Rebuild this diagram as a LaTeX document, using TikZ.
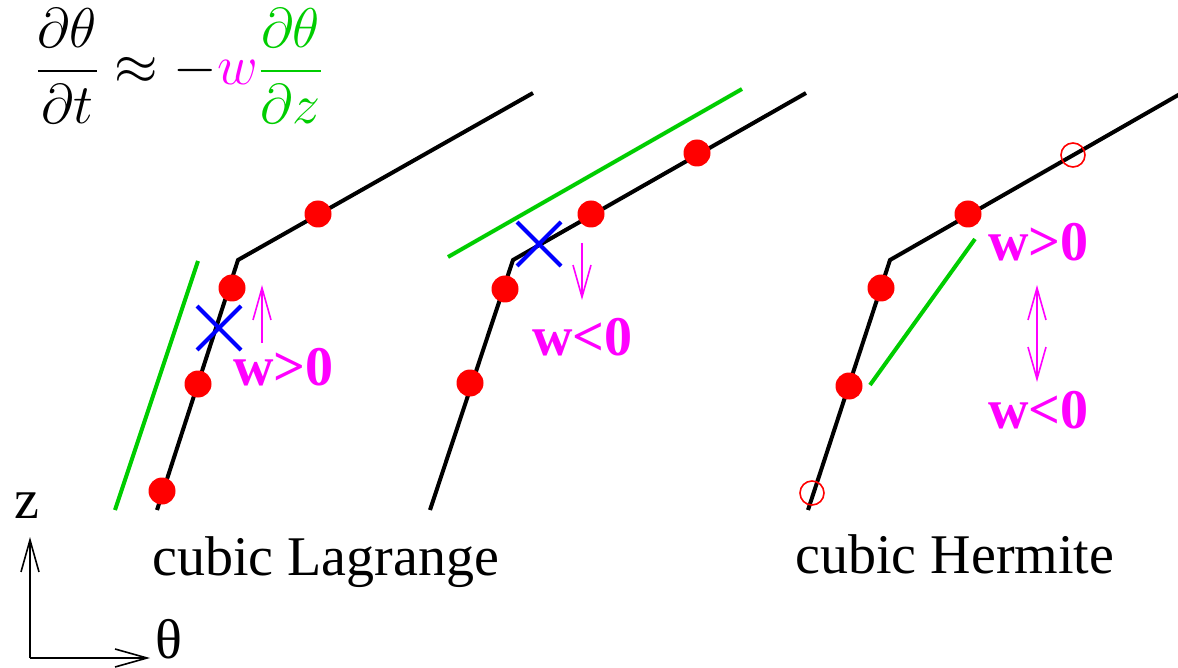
\RequirePackage{fix-cm}
\documentclass[tikz,border=0pt]{standalone}
\usepackage{amsmath}
\usepackage{fontspec}
\setmainfont{Liberation Serif}
\usepackage{xcolor}
\usepackage{tikz}
\usetikzlibrary{arrows.meta,shapes.misc}
\definecolor{lgreen}{RGB}{0,205,0}
\definecolor{wmag}{RGB}{255,0,255}
\definecolor{xblue}{RGB}{0,0,255}
\definecolor{dotred}{RGB}{255,0,0}

\begin{document}
\begin{tikzpicture}[x=0.5pt,y=-0.5pt,font=\fontsize{28}{32}\selectfont,
    curve/.style={line width=2pt},
    slope/.style={lgreen,line width=2pt},
    knot/.style={circle,fill=dotred,inner sep=0pt,minimum size=13.5pt},
    hknot/.style={circle,draw=dotred,line width=0.8pt,inner sep=0pt,minimum size=12pt},
    foot/.style={cross out,draw=xblue,line width=2pt,inner sep=0pt,minimum size=20pt},
    vel/.style={wmag,line width=0.8pt},
    tip/.tip={Straight Barb[length=16pt,width=9pt]},
    wlab/.style={wmag,font=\fontsize{28}{32}\selectfont\bfseries,anchor=base west,inner sep=0pt}]
    \useasboundingbox (0,0) rectangle (1178,668);

    % equation
    \node[anchor=base west,inner sep=0pt] (eq) at (35,85)
        {$\displaystyle\frac{\partial\theta}{\partial t}\approx-\textcolor{wmag}{w}\textcolor{lgreen}{\frac{\partial\theta}{\partial z}}$};

    % cubic Lagrange, w>0
    \coordinate (la) at (157,510);
    \coordinate (lk) at (238,260);
    \coordinate (lb) at (533,93);
    \draw[curve] (la) -- (lk) -- (lb);
    \coordinate (lg1) at (115,510);
    \coordinate (lg2) at (198,261);
    \draw[slope] (lg1) -- (lg2);
    \foreach \p [count=\i] in {(162,491),(198,384),(232,288),(318,214)}
        \node[knot] (l\i) at \p {};
    \node[foot] (lx) at (219,328) {};
    \coordinate (lv0) at (262,343);
    \coordinate (lv1) at (262,285);
    \draw[vel,-tip] (lv0) -- (lv1);
    \node[wlab] (lw) at (233,386) {w>0};

    % cubic Lagrange, w<0
    \coordinate (ma) at (430,510);
    \coordinate (mk) at (513,260);
    \coordinate (mb) at (806,93);
    \draw[curve] (ma) -- (mk) -- (mb);
    \coordinate (mg1) at (448,257);
    \coordinate (mg2) at (742,89);
    \draw[slope] (mg1) -- (mg2);
    \foreach \p [count=\i] in {(470,383),(505,289),(591,214),(697,153)}
        \node[knot] (m\i) at \p {};
    \node[foot] (mx) at (539,244) {};
    \coordinate (mv0) at (582,243);
    \coordinate (mv1) at (582,300);
    \draw[vel,-tip] (mv0) -- (mv1);
    \node[wlab] (mw) at (532,356) {w<0};

    % cubic Hermite
    \coordinate (ra) at (808,510);
    \coordinate (rk) at (890,260);
    \coordinate (rb) at (1180,94);
    \draw[curve] (ra) -- (rk) -- (rb);
    \coordinate (rg1) at (870,385);
    \coordinate (rg2) at (975,239);
    \draw[slope] (rg1) -- (rg2);
    \foreach \p [count=\i] in {(849,386),(881,288),(968,214)}
        \node[knot] (r\i) at \p {};
    \node[hknot] (h1) at (812,493) {};
    \node[hknot] (h2) at (1073,155) {};
    \node[wlab] (rw1) at (988,261) {w>0};
    \node[wlab] (rw2) at (988,428) {w<0};
    \coordinate (rv0) at (1037,285);
    \coordinate (rv1) at (1037,382);
    \draw[vel,tip-tip] (rv0) -- (rv1);

    % axes
    \coordinate (o) at (30,658);
    \coordinate (zt) at (30,537);
    \coordinate (tt) at (150,658);
    \draw[line width=0.8pt,-tip] (o) -- (zt);
    \draw[line width=0.8pt,-tip] (o) -- (tt);
    \node[anchor=base,inner sep=0pt] (zl) at (27,518) {z};
    \node[anchor=base west,inner sep=0pt] (tl) at (155,658) {θ};

    \node[anchor=base west,inner sep=0pt] (lag) at (152,575) {cubic Lagrange};
    \node[anchor=base west,inner sep=0pt] (her) at (795,573) {cubic Hermite};
\end{tikzpicture}
\end{document}
